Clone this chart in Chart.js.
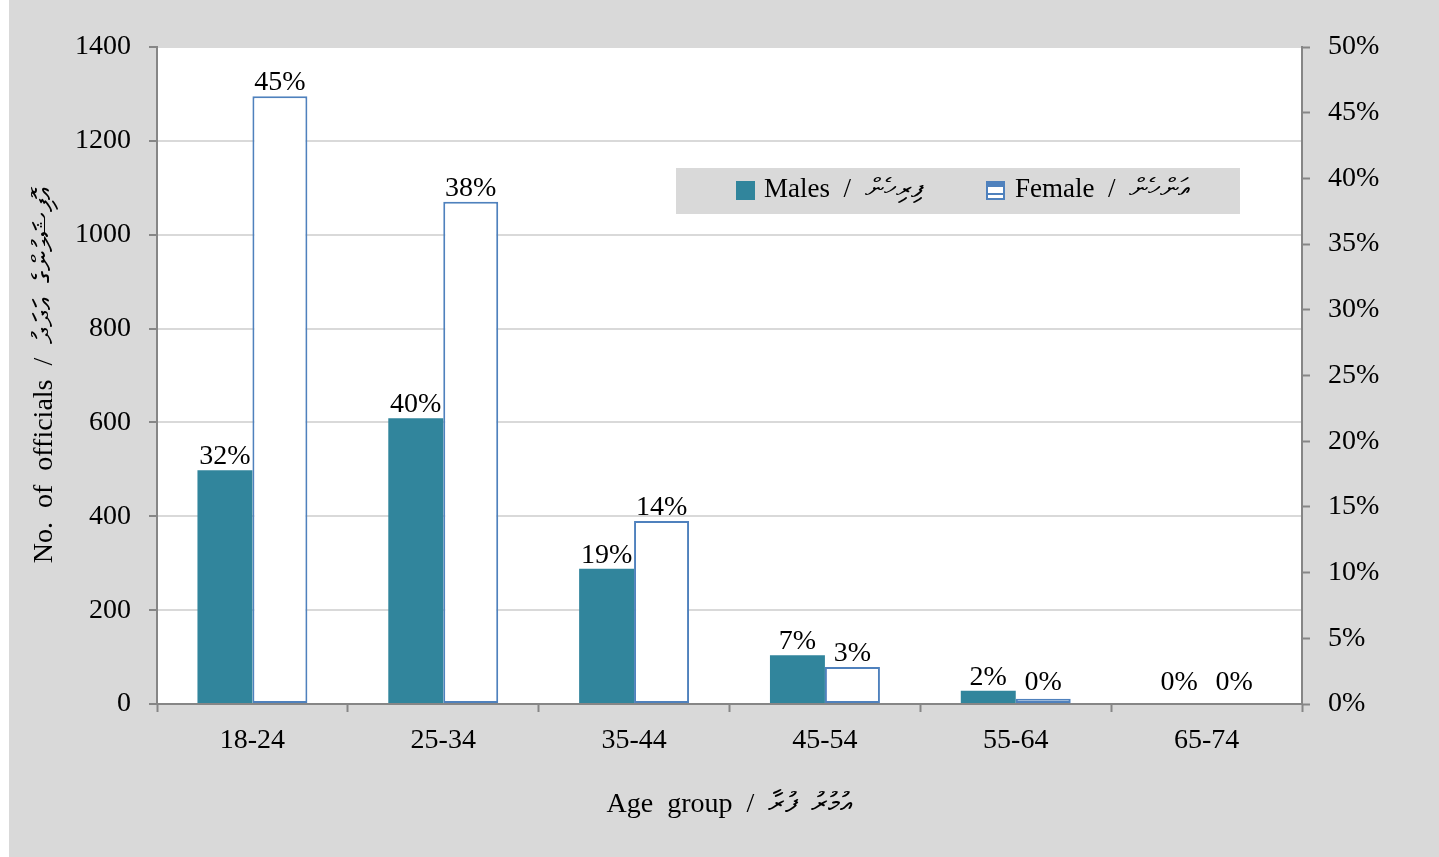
<!DOCTYPE html>
<html>
<head>
<meta charset="utf-8">
<script src="https://cdn.jsdelivr.net/npm/chart.js@4"></script>
<style>
    body { margin: 0; background: #ffffff; }
    #wrap { position: absolute; left: 9px; top: 0; width: 1430px; height: 857px; background: #d9d9d9; }
    #legend { position: absolute; left: 667px; top: 168px; width: 564px; height: 46px; background: #d9d9d9;
        font-family: "Liberation Serif", serif; font-size: 27px; color: #000; white-space: pre; }
    .sw { position: absolute; top: 13px; width: 19px; height: 19px; box-sizing: border-box; }
    .txt { position: absolute; top: 3px; line-height: 34px; }
</style>
</head>
<body>
<div id="wrap">
    <canvas id="chart" width="1430" height="857"></canvas>
    <div id="legend">
        <div class="sw" style="left:60px; background:#31859c;"></div>
        <div class="txt" id="lgMale" style="left:88px;"></div>
        <div class="sw" style="left:310px; background:#ffffff; border:2px solid #4f81bd;">
            <div style="position:absolute; left:0; right:0; top:0; height:4px; background:#4f81bd;"></div>
            <div style="position:absolute; left:0; right:0; bottom:3px; height:2px; background:#4f81bd;"></div>
        </div>
        <div class="txt" id="lgFemale" style="left:339px;"></div>
    </div>
</div>
<script>
const ageGroups = ["18-24", "25-34", "35-44", "45-54", "55-64", "65-74"];
const males = [498, 609, 288, 104, 28, 2];
const females = [1295, 1070, 390, 79, 11, 0];
const malesPct = [32, 40, 19, 7, 2, 0];
const femalesPct = [45, 38, 14, 3, 0, 0];

const maleLabel = "Males  /  ފިރިހެން";
const femaleLabel = "Female  /  އަންހެން";
const yTitle = "No.  of  officials  /  އޮފިޝަލުންގެ  އަދަދު";
const xTitle = "Age  group  /  އުމުރު  ފުރާ";

document.getElementById("lgMale").textContent = maleLabel;
document.getElementById("lgFemale").textContent = femaleLabel;

const font = { family: "'Liberation Serif', serif", size: 28 };
const axisGrey = "#868686";

// white plot area
const plotBg = {
    id: "plotBg",
    beforeDraw: (chart) => {
        const { ctx, chartArea: a } = chart;
        ctx.save();
        ctx.fillStyle = "#ffffff";
        ctx.fillRect(a.left, a.top, a.right - a.left, a.bottom - a.top);
        ctx.restore();
    }
};

// percent labels above the bars
const pctLabels = {
    id: "pctLabels",
    afterDatasetsDraw: (chart) => {
        const ctx = chart.ctx;
        const pcts = [malesPct, femalesPct];
        ctx.save();
        ctx.font = "28px 'Liberation Serif', serif";
        ctx.fillStyle = "#000";
        ctx.textAlign = "center";
        ctx.textBaseline = "alphabetic";
        chart.data.datasets.forEach((ds, d) => {
            chart.getDatasetMeta(d).data.forEach((bar, i) => {
                ctx.fillText(pcts[d][i] + "%", bar.x, Math.min(bar.y - 6, 690));
            });
        });
        ctx.restore();
    }
};

const chart = new Chart(document.getElementById("chart"), {
    type: "bar",
    data: {
        labels: ageGroups,
        datasets: [
            {
                label: maleLabel,
                data: males,
                backgroundColor: "#31859c",
                borderWidth: 0,
            },
            {
                label: femaleLabel,
                data: females,
                backgroundColor: "#ffffff",
                borderColor: "#4f81bd",
                borderWidth: (c) => (c.raw > 0 ? 2 : 0),
                borderSkipped: false,
            }
        ],
    },
    options: {
        responsive: false,
        animation: false,
        categoryPercentage: 0.576,
        barPercentage: 1,
        layout: { padding: { top: 47, left: 0, right: 0, bottom: 0 } },
        plugins: {
            legend: { display: false },
            tooltip: { enabled: false },
        },
        scales: {
            x: {
                offset: true,
                grid: { offset: true, drawOnChartArea: false, tickColor: axisGrey, tickWidth: 2, tickLength: 8 },
                border: { color: axisGrey, width: 2 },
                ticks: { color: "#000", font: font, padding: 12, maxRotation: 0 },
                title: { display: true, text: xTitle, color: "#000", font: font, padding: { top: 0, bottom: 36 } },
                afterFit: (s) => { s.height = 153; },
            },
            y: {
                position: "left",
                min: 0,
                max: 1400,
                ticks: { stepSize: 200, color: "#000", font: font, padding: 18, callback: (v) => String(v) },
                grid: { color: "#d9d9d9", lineWidth: 2, tickColor: axisGrey, tickWidth: 2, tickLength: 8 },
                border: { color: axisGrey, width: 2 },
                title: { display: true, text: yTitle, color: "#000", font: font, padding: { top: 19, bottom: 0 } },
                afterFit: (s) => { s.width = 148; },
            },
            y1: {
                position: "right",
                min: 0,
                max: 50,
                ticks: { stepSize: 5, color: "#000", font: font, padding: 18, callback: (v) => v + "%" },
                grid: { drawOnChartArea: false, tickColor: axisGrey, tickWidth: 2, tickLength: 8 },
                border: { color: axisGrey, width: 2 },
                afterFit: (s) => { s.width = 137; },
            },
        },
    },
    plugins: [plotBg, pctLabels],
});
</script>
</body>
</html>
